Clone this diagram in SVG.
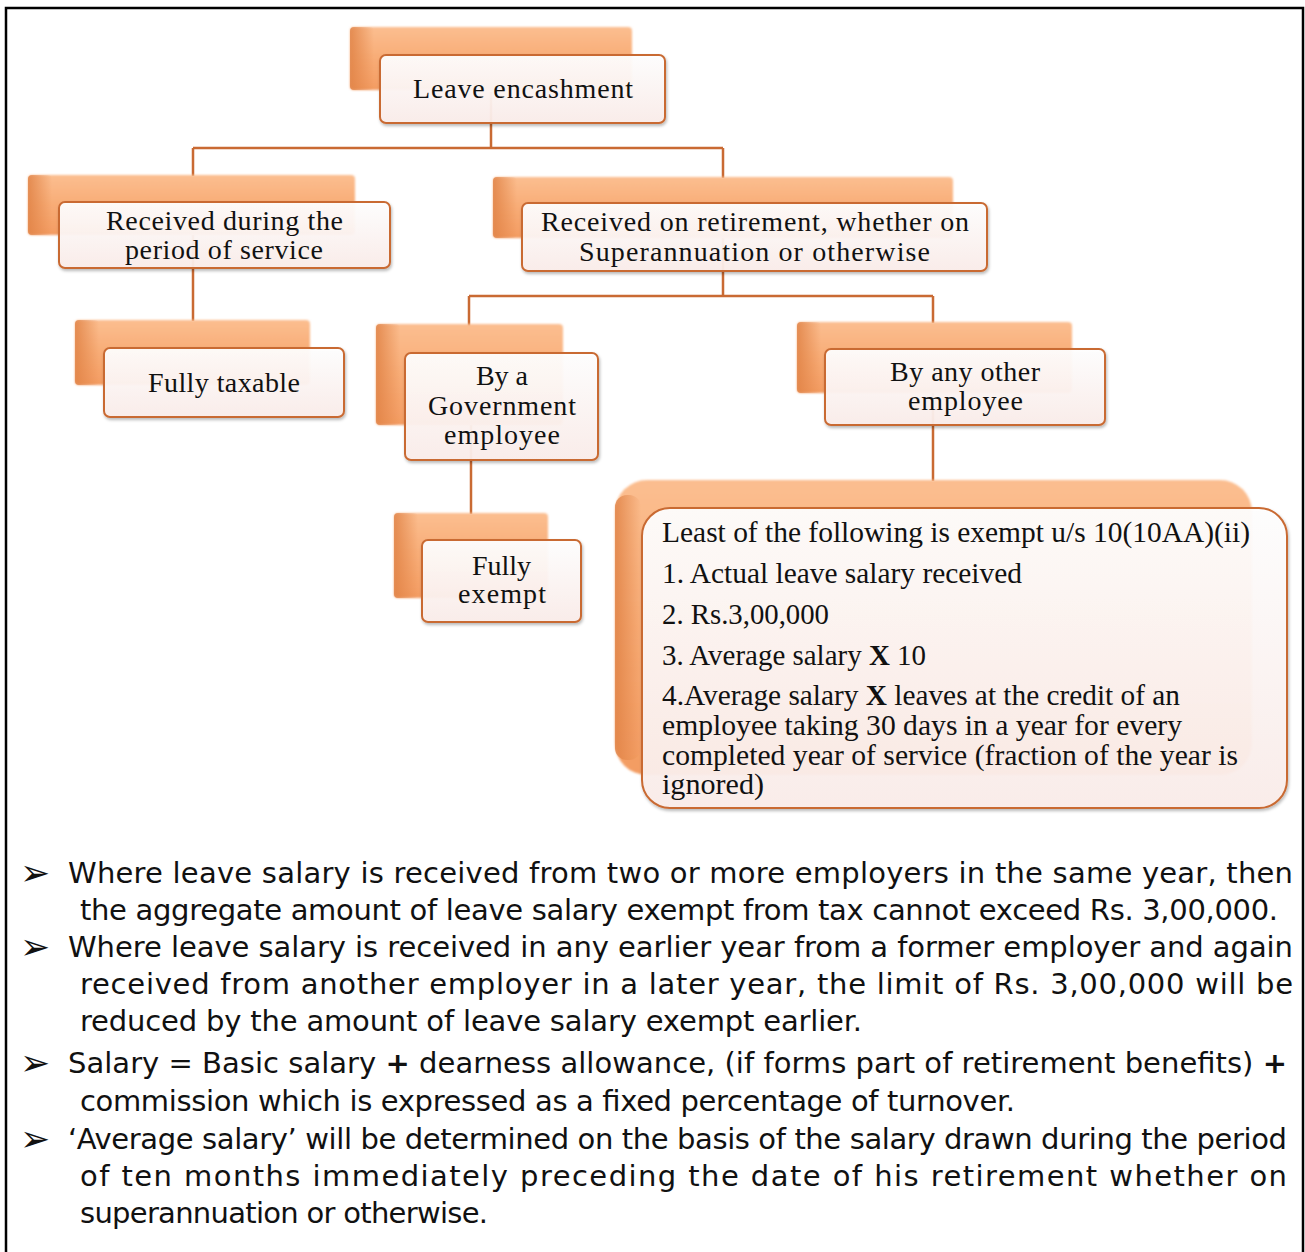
<svg xmlns="http://www.w3.org/2000/svg" width="1305" height="1252" viewBox="0 0 1305 1252">
  <defs>
    <linearGradient id="backGrad" x1="0" y1="0" x2="0" y2="1">
      <stop offset="0" stop-color="#FBBE90"/>
      <stop offset="0.5" stop-color="#F8AC76"/>
      <stop offset="1" stop-color="#F39C62"/>
    </linearGradient>
    <linearGradient id="bevelLeft" x1="0" y1="0" x2="1" y2="0">
      <stop offset="0" stop-color="#E08245" stop-opacity="0.85"/>
      <stop offset="1" stop-color="#E08245" stop-opacity="0"/>
    </linearGradient>
    <linearGradient id="frontGrad" x1="0" y1="0" x2="0" y2="1">
      <stop offset="0" stop-color="#FFFFFF"/>
      <stop offset="1" stop-color="#FBEDEA"/>
    </linearGradient>
    <filter id="soft" x="-5%" y="-5%" width="110%" height="110%">
      <feGaussianBlur stdDeviation="0.9"/>
    </filter>
    <filter id="shadow" x="-5%" y="-5%" width="112%" height="120%">
      <feDropShadow dx="1" dy="2" stdDeviation="1.6" flood-color="#000000" flood-opacity="0.28"/>
    </filter>
  </defs>
  <style>
    .back { fill: url(#backGrad); filter: url(#soft); }
    .bevel { fill: url(#bevelLeft); }
    .front { fill: url(#frontGrad); fill-opacity: 0.94; stroke: #C96A33; stroke-width: 2; filter: url(#shadow); }
    .lbl { font-family: "Liberation Serif", "Times New Roman", serif; font-size: 28px; fill: #111111; text-anchor: middle; }
    .box { font-family: "Liberation Serif", "Times New Roman", serif; font-size: 29px; fill: #111111; }
    .conn { fill: none; stroke: #C96A33; stroke-width: 2.5; }
    .bul { font-family: "DejaVu Sans", "Liberation Sans", sans-serif; font-size: 29px; fill: #111111; }
    .arrow { font-family: "DejaVu Sans", sans-serif; font-size: 36px; fill: #111111; }
  </style>

  <rect width="1305" height="1252" fill="#FFFFFF"/>
  <!-- page frame -->
  <rect x="6" y="8" width="1297" height="1270" fill="none" stroke="#000000" stroke-width="2.5"/>

  <!-- connectors -->
  <g id="connectors" class="conn">
    <path d="M491,92 V148 M193,148 H723 M193,148 V176 M723,148 V178"/>
    <path d="M193,235 V321"/>
    <path d="M723,238 V296 M469,296 H933 M469,296 V326 M933,296 V323"/>
    <path d="M471,425 V514"/>
    <path d="M933,393 V481"/>
  </g>

  <g id="node-leave-encashment">
    <rect class="back" x="350" y="27" width="282" height="63" rx="4"/>
    <rect class="bevel" x="350" y="27" width="24" height="63" rx="4"/>
    <rect class="front" x="380" y="55" width="285" height="68" rx="6"/>
    <text class="lbl" x="523" y="98" textLength="220">Leave encashment</text>
  </g>

  <g id="node-during-service">
    <rect class="back" x="28" y="175" width="327" height="60" rx="4"/>
    <rect class="bevel" x="28" y="175" width="24" height="60" rx="4"/>
    <rect class="front" x="59" y="202" width="331" height="66" rx="6"/>
    <text class="lbl" x="224.5" y="230" textLength="237">Received during the</text>
    <text class="lbl" x="224" y="259" textLength="198">period of service</text>
  </g>

  <g id="node-on-retirement">
    <rect class="back" x="493" y="177" width="460" height="61" rx="4"/>
    <rect class="bevel" x="493" y="177" width="24" height="61" rx="4"/>
    <rect class="front" x="522" y="203" width="465" height="68" rx="6"/>
    <text class="lbl" x="755" y="231" textLength="428">Received on retirement, whether on</text>
    <text class="lbl" x="754.5" y="261" textLength="351">Superannuation or otherwise</text>
  </g>

  <g id="node-fully-taxable">
    <rect class="back" x="75" y="320" width="235" height="65" rx="4"/>
    <rect class="bevel" x="75" y="320" width="24" height="65" rx="4"/>
    <rect class="front" x="104" y="348" width="240" height="69" rx="6"/>
    <text class="lbl" x="224" y="392" textLength="152">Fully taxable</text>
  </g>

  <g id="node-government">
    <rect class="back" x="376" y="324" width="187" height="101" rx="4"/>
    <rect class="bevel" x="376" y="324" width="24" height="101" rx="4"/>
    <rect class="front" x="405" y="353" width="193" height="107" rx="6"/>
    <text class="lbl" x="502" y="385">By a</text>
    <text class="lbl" x="502" y="415" textLength="148">Government</text>
    <text class="lbl" x="502" y="444" textLength="116">employee</text>
  </g>

  <g id="node-fully-exempt">
    <rect class="back" x="394" y="513" width="154" height="85" rx="4"/>
    <rect class="bevel" x="394" y="513" width="24" height="85" rx="4"/>
    <rect class="front" x="422" y="540" width="159" height="82" rx="6"/>
    <text class="lbl" x="501.5" y="575">Fully</text>
    <text class="lbl" x="502" y="603" textLength="88">exempt</text>
  </g>

  <g id="node-other-employee">
    <rect class="back" x="797" y="322" width="275" height="71" rx="4"/>
    <rect class="bevel" x="797" y="322" width="24" height="71" rx="4"/>
    <rect class="front" x="825" y="349" width="280" height="76" rx="6"/>
    <text class="lbl" x="965" y="381" textLength="150">By any other</text>
    <text class="lbl" x="965.5" y="410" textLength="115">employee</text>
  </g>

  <g id="node-exemption-limits">
    <rect class="back" x="615" y="480" width="637" height="295" rx="32"/>
    <rect class="bevel" x="615" y="495" width="26" height="265" rx="12"/>
    <rect class="front" x="642" y="508" width="645" height="300" rx="28"/>
    <text class="box" x="662" y="542" textLength="588" lengthAdjust="spacingAndGlyphs">Least of the following is exempt u/s 10(10AA)(ii)</text>
    <text class="box" x="662" y="583" textLength="360" lengthAdjust="spacingAndGlyphs">1. Actual leave salary received</text>
    <text class="box" x="662" y="624" textLength="167" lengthAdjust="spacingAndGlyphs">2. Rs.3,00,000</text>
    <text class="box" x="662" y="665" textLength="264" lengthAdjust="spacingAndGlyphs">3. Average salary <tspan font-weight="bold">X</tspan> 10</text>
    <text class="box" x="662" y="705" textLength="518" lengthAdjust="spacingAndGlyphs">4.Average salary <tspan font-weight="bold">X</tspan> leaves at the credit of an</text>
    <text class="box" x="662" y="735" textLength="520" lengthAdjust="spacingAndGlyphs">employee taking 30 days in a year for every</text>
    <text class="box" x="662" y="765" textLength="576" lengthAdjust="spacingAndGlyphs">completed year of service (fraction of the year is</text>
    <text class="box" x="662" y="794" textLength="102" lengthAdjust="spacingAndGlyphs">ignored)</text>
  </g>

  <!-- notes below the chart -->
  <g id="notes">
    <text class="arrow" x="20" y="885">➢</text>
    <text class="arrow" x="20" y="959">➢</text>
    <text class="arrow" x="20" y="1075">➢</text>
    <text class="arrow" x="20" y="1151">➢</text>
    <text class="bul" x="68" y="883" textLength="1225">Where leave salary is received from two or more employers in the same year, then</text>
    <text class="bul" x="80" y="920" textLength="1198">the aggregate amount of leave salary exempt from tax cannot exceed Rs. 3,00,000.</text>
    <text class="bul" x="68" y="957" textLength="1225">Where leave salary is received in any earlier year from a former employer and again</text>
    <text class="bul" x="80" y="994" textLength="1213">received from another employer in a later year, the limit of Rs. 3,00,000 will be</text>
    <text class="bul" x="80" y="1031" textLength="782">reduced by the amount of leave salary exempt earlier.</text>
    <text class="bul" x="68" y="1073" textLength="1219">Salary = Basic salary <tspan font-weight="bold">+</tspan> dearness allowance, (if forms part of retirement benefits) <tspan font-weight="bold">+</tspan></text>
    <text class="bul" x="80" y="1111" textLength="935">commission which is expressed as a fixed percentage of turnover.</text>
    <text class="bul" x="68" y="1149" textLength="1219">‘Average salary’ will be determined on the basis of the salary drawn during the period</text>
    <text class="bul" x="80" y="1186" textLength="1207">of ten months immediately preceding the date of his retirement whether on</text>
    <text class="bul" x="80" y="1223" textLength="408">superannuation or otherwise.</text>
  </g>
</svg>
